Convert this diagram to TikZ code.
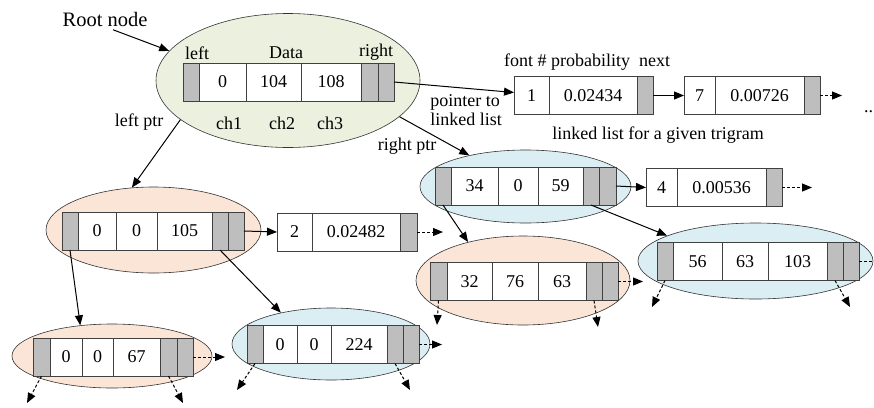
\documentclass[tikz,border=0pt]{standalone}
\usepackage{fontspec}
\setmainfont{Liberation Serif}
\usetikzlibrary{shapes.geometric,positioning,arrows.meta}

\definecolor{rootfill}{RGB}{235,241,222}
\definecolor{leftfill}{RGB}{251,229,214}
\definecolor{rightfill}{RGB}{218,238,243}
\definecolor{ptrgray}{RGB}{190,190,190}

\tikzset{
  datacell/.style={rectangle,draw=black!75,line width=0.9pt,fill=white,inner sep=0pt,outer sep=0pt,minimum height=38},
  ptrcell/.style={datacell,fill=ptrgray},
  trinode/.style={ellipse,draw=black!80,line width=0.6pt,inner sep=0pt},
  solidptr/.style={line width=1pt,-{Triangle[length=10pt,width=8pt]}},
  dashptr/.style={solidptr,dash pattern=on 3pt off 2pt},
}

\begin{document}
\begin{tikzpicture}[x=1pt,y=-1pt,font=\fontsize{18}{19}\selectfont]
\useasboundingbox (0,0) rectangle (874,407);

% tree nodes
\node[trinode,fill=rootfill,minimum width=264,minimum height=134] (root) at (288,80.5) {};
\node[trinode,fill=rightfill,minimum width=211,minimum height=73] (b1) at (525.5,186.5) {};
\node[trinode,fill=leftfill,minimum width=215,minimum height=86] (o1) at (153.5,230) {};
\node[trinode,fill=leftfill,minimum width=200,minimum height=64] (o2) at (112,356) {};
\node[trinode,fill=rightfill,minimum width=198,minimum height=72] (b3) at (331,344) {};
\node[trinode,fill=leftfill,minimum width=214,minimum height=89] (o3) at (523,280.5) {};
\node[trinode,fill=rightfill,minimum width=235,minimum height=76] (b2) at (755.5,261) {};

% root record
\node[ptrcell,minimum width=16,anchor=west] (r0) at (183,82) {};
\node[datacell,minimum width=47,right=0pt of r0] (r1) {0};
\node[datacell,minimum width=55,right=0pt of r1] (r2) {104};
\node[datacell,minimum width=60,right=0pt of r2] (r3) {108};
\node[ptrcell,minimum width=17,right=0pt of r3] (r4) {};
\node[ptrcell,minimum width=16,right=0pt of r4] (r5) {};

\node[font=\fontsize{20.5}{24}\selectfont] (rootlbl) at (105,19) {Root node};
\node (leftlbl) at (197,53) {left};
\node (datalbl) at (286,53) {Data};
\node (rightlbl) at (376,52) {right};
\node (ch1) at (229,123) {ch1};
\node (ch2) at (282,123) {ch2};
\node (ch3) at (330,123) {ch3};

% linked list of the root
\node[datacell,minimum width=35,anchor=west] (l1a) at (514,95.5) {1};
\node[datacell,minimum width=88,right=0pt of l1a] (l1b) {0.02434};
\node[ptrcell,minimum width=16,right=0pt of l1b] (l1c) {};
\node[datacell,minimum width=31,anchor=west] (l2a) at (684,95.5) {7};
\node[datacell,minimum width=89,right=0pt of l2a] (l2b) {0.00726};
\node[ptrcell,minimum width=16,right=0pt of l2b] (l2c) {};

\node (fields) at (587,62) {font \# probability\ \ next};
\node[align=left] (ptrlist) at (466,110) {pointer to\\linked list};
\node (listcap) at (658,135) {linked list for a given trigram};
\node[anchor=base west,inner sep=0pt] (more) at (864,112) {...};
\node (leftptr) at (139,122) {left ptr};
\node (rightptr) at (407,146) {right ptr};

% right child
\node[ptrcell,minimum width=16,anchor=west] (b1r0) at (435,186) {};
\node[datacell,minimum width=47,right=0pt of b1r0] (b1r1) {34};
\node[datacell,minimum width=40,right=0pt of b1r1] (b1r2) {0};
\node[datacell,minimum width=45,right=0pt of b1r2] (b1r3) {59};
\node[ptrcell,minimum width=16,right=0pt of b1r3] (b1r4) {};
\node[ptrcell,minimum width=17,right=0pt of b1r4] (b1r5) {};

\node[datacell,minimum width=31,anchor=west] (l3a) at (646,187.5) {4};
\node[datacell,minimum width=89,right=0pt of l3a] (l3b) {0.00536};
\node[ptrcell,minimum width=16,right=0pt of l3b] (l3c) {};

% left child
\node[ptrcell,minimum width=16,anchor=west] (o1r0) at (62,231) {};
\node[datacell,minimum width=38,right=0pt of o1r0] (o1r1) {0};
\node[datacell,minimum width=41,right=0pt of o1r1] (o1r2) {0};
\node[datacell,minimum width=55,right=0pt of o1r2] (o1r3) {105};
\node[ptrcell,minimum width=16,right=0pt of o1r3] (o1r4) {};
\node[ptrcell,minimum width=16,right=0pt of o1r4] (o1r5) {};

\node[datacell,minimum width=35,anchor=west] (l4a) at (277,232) {2};
\node[datacell,minimum width=88,right=0pt of l4a] (l4b) {0.02482};
\node[ptrcell,minimum width=17,right=0pt of l4b] (l4c) {};

% third level
\node[ptrcell,minimum width=17,anchor=west] (o2r0) at (33,357) {};
\node[datacell,minimum width=32,right=0pt of o2r0] (o2r1) {0};
\node[datacell,minimum width=31,right=0pt of o2r1] (o2r2) {0};
\node[datacell,minimum width=47,right=0pt of o2r2] (o2r3) {67};
\node[ptrcell,minimum width=17,right=0pt of o2r3] (o2r4) {};
\node[ptrcell,minimum width=16,right=0pt of o2r4] (o2r5) {};

\node[ptrcell,minimum width=16,anchor=west] (b3r0) at (247,344.5) {};
\node[datacell,minimum width=34,right=0pt of b3r0] (b3r1) {0};
\node[datacell,minimum width=34,right=0pt of b3r1] (b3r2) {0};
\node[datacell,minimum width=56,right=0pt of b3r2] (b3r3) {224};
\node[ptrcell,minimum width=16,right=0pt of b3r3] (b3r4) {};
\node[ptrcell,minimum width=16,right=0pt of b3r4] (b3r5) {};

\node[ptrcell,minimum width=17,anchor=west] (o3r0) at (430,281.5) {};
\node[datacell,minimum width=45,right=0pt of o3r0] (o3r1) {32};
\node[datacell,minimum width=46,right=0pt of o3r1] (o3r2) {76};
\node[datacell,minimum width=48,right=0pt of o3r2] (o3r3) {63};
\node[ptrcell,minimum width=16,right=0pt of o3r3] (o3r4) {};
\node[ptrcell,minimum width=16,right=0pt of o3r4] (o3r5) {};

\node[ptrcell,minimum width=16,anchor=west] (b2r0) at (657,261.5) {};
\node[datacell,minimum width=49,right=0pt of b2r0] (b2r1) {56};
\node[datacell,minimum width=46,right=0pt of b2r1] (b2r2) {63};
\node[datacell,minimum width=59,right=0pt of b2r2] (b2r3) {103};
\node[ptrcell,minimum width=16,right=0pt of b2r3] (b2r4) {};
\node[ptrcell,minimum width=16,right=0pt of b2r4] (b2r5) {};

% loose ends
\coordinate (l2end) at (842,95.5);
\coordinate (l3end) at (812,187.5);
\coordinate (l4end) at (443,232);
\coordinate (o2next) at (225,357);
\coordinate (b3next) at (442,344.5);
\coordinate (o3next) at (643,281.5);
\coordinate (b2next) at (890,261.5);
\coordinate (o2left) at (27,403);
\coordinate (o2right) at (183,403);
\coordinate (b3left) at (237,390);
\coordinate (b3right) at (410,390);
\coordinate (o3left) at (437,325);
\coordinate (o3right) at (598,327);
\coordinate (b2left) at (652,307);
\coordinate (b2right) at (850,307);

\draw[solidptr] ([xshift=8pt]rootlbl.south) -- (root.166.6);
\draw[solidptr] (r5.east) -- ([yshift=3pt]l1a.west);
\draw[solidptr] (l1c.east) -- (l2a.west);
\draw[dashptr] (l2c.east) -- (l2end);
\draw[solidptr] (root.200) -- (o1.117.6);
\draw[solidptr] (root.-18.8) -- (b1.151.6);

\draw[solidptr] (b1r5.east) -- (l3a.west);
\draw[dashptr] (l3c.east) -- (l3end);
\draw[solidptr] (b1r0.south) -- (o3.145.7);
\draw[solidptr] (b1r4.south) -- (b2.164.3);

\draw[solidptr] (o1r5.east) -- (l4a.west);
\draw[dashptr] (l4c.east) -- (l4end);
\draw[solidptr] (o1r0.south) -- (o2.136);
\draw[solidptr] (o1r4.south) -- (b3.148.9);

\draw[dashptr] (o2r5.east) -- (o2next);
\draw[dashptr] (o2r0.south) -- (o2left);
\draw[dashptr] (o2r4.south) -- (o2right);
\draw[dashptr] (b3r5.east) -- (b3next);
\draw[dashptr] (b3r0.south) -- (b3left);
\draw[dashptr] (b3r4.south) -- (b3right);
\draw[dashptr] (o3r5.east) -- (o3next);
\draw[dashptr] (o3r0.south) -- (o3left);
\draw[dashptr] (o3r4.south) -- (o3right);
\draw[dashptr] (b2r5.east) -- (b2next);
\draw[dashptr] (b2r0.south) -- (b2left);
\draw[dashptr] (b2r4.south) -- (b2right);
\end{tikzpicture}
\end{document}
